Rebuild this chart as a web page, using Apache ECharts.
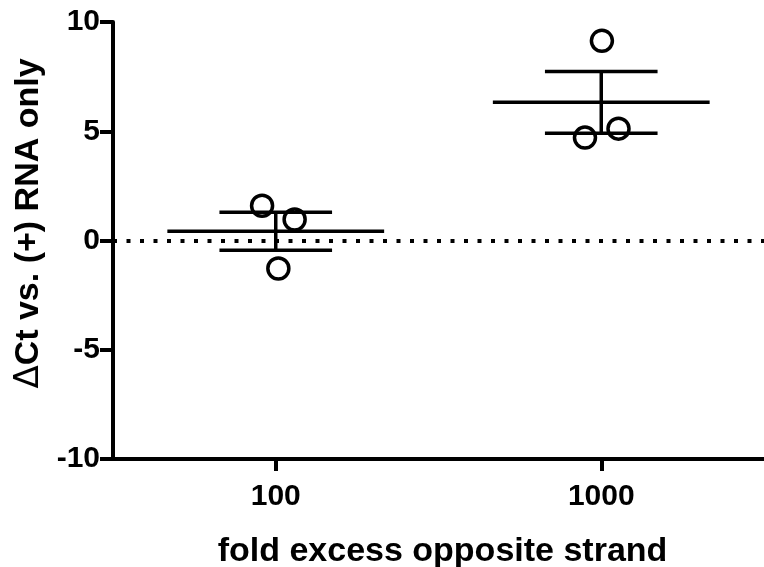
<!DOCTYPE html>
<html>
<head>
<meta charset="utf-8">
<script src="https://cdn.jsdelivr.net/npm/echarts@6/dist/echarts.min.js"></script>
<style>
  html, body { margin: 0; padding: 0; background: #fff; }
  #chart { width: 764px; height: 567px; }
</style>
</head>
<body>
<div id="chart"></div>
<script>
// groups on the x axis
const categories = ['100', '1000']
// replicate values per group (delta Ct)
const group100 = [1.59, 0.96, -1.28]
const group1000 = [9.14, 4.71, 5.12]
// small horizontal scatter of the points inside each group
const jitter100 = [-0.042, 0.058, 0.008]
const jitter1000 = [0.002, -0.05, 0.053]
const yTicks = [-10, -5, 0, 5, 10]

function meanSem(arr) {
  const n = arr.length
  const m = arr.reduce((a, b) => a + b, 0) / n
  const sd = Math.sqrt(arr.reduce((a, b) => a + (b - m) * (b - m), 0) / (n - 1))
  return [m, sd / Math.sqrt(n)]
}

const groups = [group100, group1000]
const jitters = [jitter100, jitter1000]

const points = []
groups.forEach((g, i) => {
  g.forEach((v, j) => points.push([i + jitters[i][j], v]))
})
const stats = groups.map((g, i) => {
  const ms = meanSem(g)
  return [i, ms[0], ms[1]]
})

const font = '"Liberation Sans", Arial, sans-serif'
const chart = echarts.init(document.getElementById('chart'))

chart.setOption({
  animation: false,
  grid: { left: 113, right: 0, top: 22, bottom: 108, containLabel: false, outerBoundsMode: 'none' },
  xAxis: [
    {
      type: 'category',
      data: categories,
      boundaryGap: true,
      name: 'fold excess opposite strand',
      nameLocation: 'middle',
      nameGap: 76,
      nameTextStyle: { fontFamily: font, fontWeight: 'bold', fontSize: 34, color: '#000', padding: [0, 0, 0, 8] },
      axisLine: { onZero: false, lineStyle: { color: '#000', width: 4 } },
      axisTick: { show: true, alignWithLabel: true, length: 12, lineStyle: { width: 4, color: '#000' } },
      axisLabel: { fontFamily: font, fontWeight: 'bold', fontSize: 30, color: '#000', margin: 23 },
      splitLine: { show: false }
    },
    {
      type: 'value',
      min: -0.5,
      max: 1.5,
      show: false
    }
  ],
  yAxis: {
    type: 'value',
    min: -10,
    max: 10,
    interval: 5,
    name: '{d|Δ}Ct vs. (+) RNA only',
    nameLocation: 'middle',
    nameGap: 66,
    nameRotate: 90,
    nameTextStyle: {
      fontFamily: font, fontWeight: 'bold', fontSize: 34, color: '#000', padding: [0, 0, 0, 34],
      rich: { d: { fontFamily: '"DejaVu Sans", sans-serif', fontWeight: 'normal', fontSize: 34, color: '#000' } }
    },
    axisLine: { show: true, onZero: false, lineStyle: { color: '#000', width: 4 } },
    axisTick: { show: true, length: 13, lineStyle: { width: 4, color: '#000' } },
    axisLabel: {
      fontFamily: font, fontWeight: 'bold', fontSize: 30, color: '#000', margin: 13,
      formatter: v => (yTicks.indexOf(v) >= 0 ? String(v) : '')
    },
    splitLine: { show: false }
  },
  series: [
    {
      type: 'custom',
      xAxisIndex: 1,
      data: stats,
      renderItem: function (params, api) {
        const x = api.value(0)
        const m = api.value(1)
        const s = api.value(2)
        const c = api.coord([x, m])
        const hi = api.coord([x, m + s])
        const lo = api.coord([x, m - s])
        const wMean = api.size([0.333, 0])[0]
        const wCap = api.size([0.173, 0])[0]
        const style = { stroke: '#000', lineWidth: 3.5, fill: null }
        return {
          type: 'group',
          children: [
            { type: 'line', shape: { x1: c[0] - wMean, y1: c[1], x2: c[0] + wMean, y2: c[1] }, style: style },
            { type: 'line', shape: { x1: hi[0], y1: hi[1], x2: lo[0], y2: lo[1] }, style: style },
            { type: 'line', shape: { x1: hi[0] - wCap, y1: hi[1], x2: hi[0] + wCap, y2: hi[1] }, style: style },
            { type: 'line', shape: { x1: lo[0] - wCap, y1: lo[1], x2: lo[0] + wCap, y2: lo[1] }, style: style }
          ]
        }
      },
      markLine: {
        silent: true,
        symbol: 'none',
        label: { show: false },
        lineStyle: { color: '#000', width: 4, type: [4, 9.5], opacity: 1 },
        data: [{ yAxis: 0 }]
      },
      z: 2
    },
    {
      type: 'scatter',
      xAxisIndex: 1,
      data: points,
      symbol: 'circle',
      symbolSize: 21,
      itemStyle: { color: 'rgba(0,0,0,0)', borderColor: '#000', borderWidth: 3.5, opacity: 1 },
      z: 3
    }
  ]
})
</script>
</body>
</html>
